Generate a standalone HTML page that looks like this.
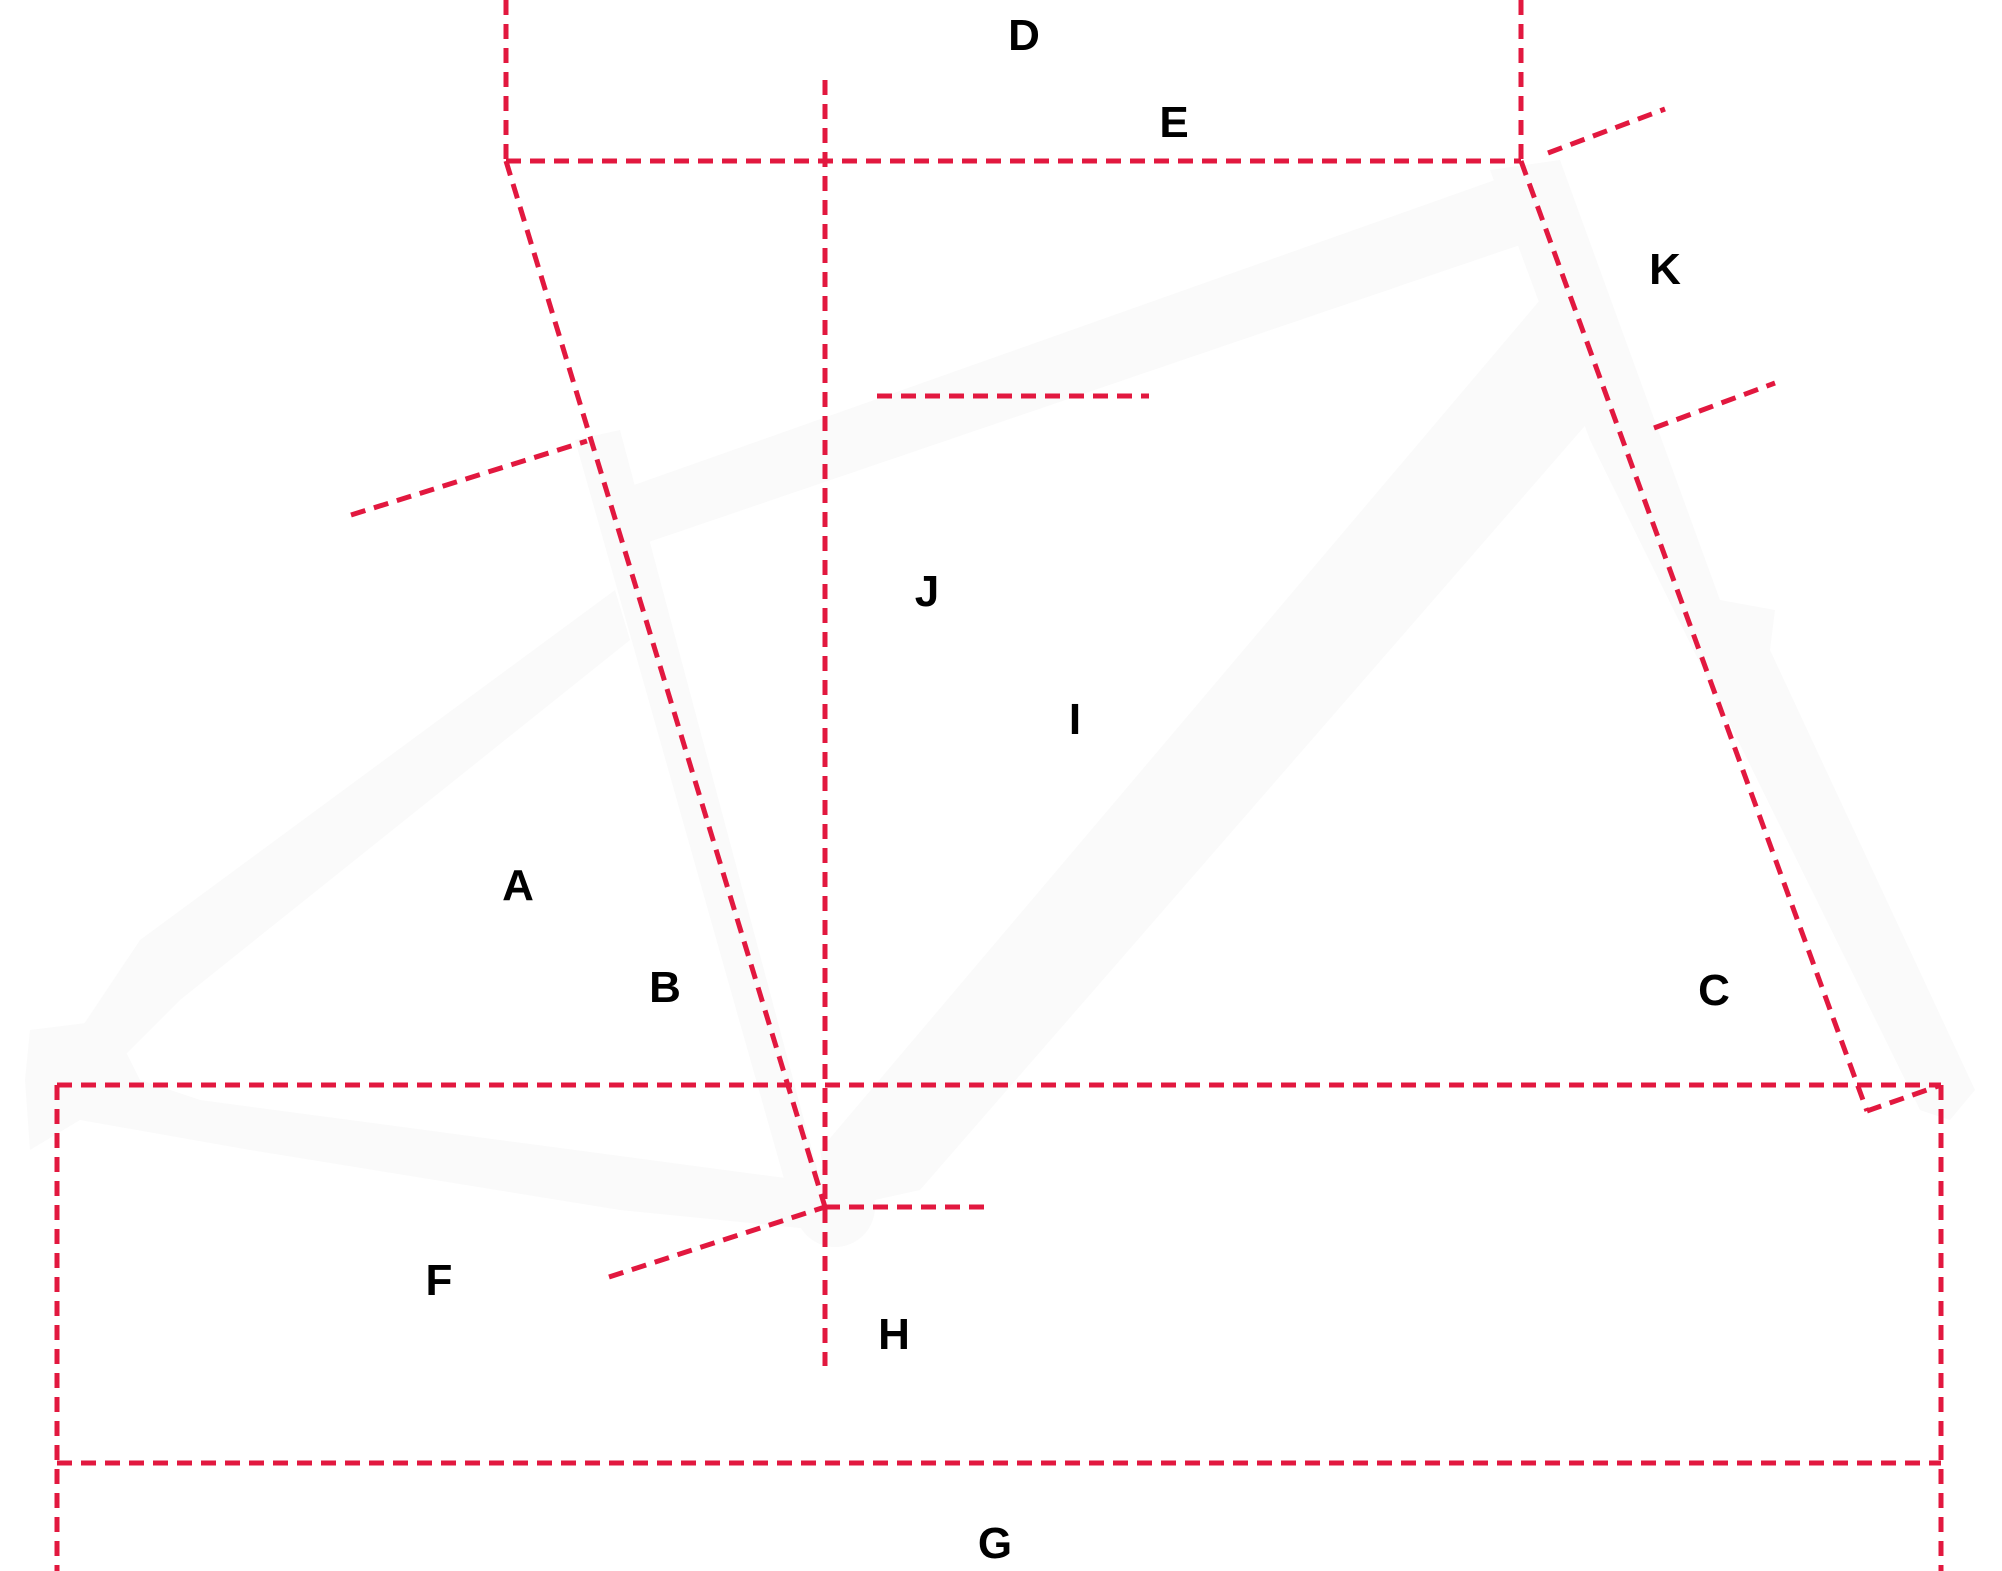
<!DOCTYPE html>
<html><head><style>
html,body{margin:0;padding:0;background:#fff;}
svg{display:block;}
text{font-family:"Liberation Sans",sans-serif;font-weight:bold;font-size:44px;fill:#000;text-anchor:middle;}
</style></head><body>
<svg width="2002" height="1571" viewBox="0 0 2002 1571" xmlns="http://www.w3.org/2000/svg">
<g fill="#fafafa" stroke="none">
<polygon points="620,490 1495,180 1520,245 640,545"/>
<polygon points="1540,300 1590,420 920,1190 830,1210 820,1150"/>
<polygon points="1490,170 1560,160 1720,600 1775,610 1770,650 1975,1090 1950,1120 1920,1110 1590,440"/>
<polygon points="575,440 620,430 820,1180 790,1200"/>
<polygon points="615,590 630,640 180,1000 120,1060 80,1030 140,940"/>
<polygon points="30,1030 110,1020 140,1080 200,1100 800,1180 820,1230 620,1210 250,1150 80,1120 30,1150 25,1080"/>
<circle cx="835" cy="1207" r="40"/>
</g>
<g fill="none" stroke="#e2183f" stroke-width="5" stroke-dasharray="15 9">
<line x1="506" y1="0" x2="506" y2="161"/>
<line x1="1521" y1="0" x2="1521" y2="161"/>
<line x1="506" y1="161" x2="1521" y2="161"/>
<line x1="506" y1="161" x2="825" y2="1207"/>
<line x1="825" y1="80" x2="825" y2="1366"/>
<line x1="877" y1="396" x2="1149" y2="396"/>
<line x1="351" y1="515" x2="587" y2="441"/>
<line x1="1521" y1="161" x2="1867" y2="1111"/>
<line x1="1548" y1="153" x2="1665" y2="109"/>
<line x1="1654" y1="428" x2="1775" y2="383"/>
<line x1="1867" y1="1111" x2="1941" y2="1085"/>
<line x1="57" y1="1085" x2="1941" y2="1085"/>
<line x1="57" y1="1085" x2="57" y2="1571"/>
<line x1="1941" y1="1085" x2="1941" y2="1571"/>
<line x1="57" y1="1463" x2="1941" y2="1463"/>
<line x1="825" y1="1207" x2="993" y2="1207"/>
<line x1="609" y1="1277" x2="825" y2="1207"/>
</g>
<text x="1024" y="50">D</text>
<text x="1174" y="137">E</text>
<text x="518" y="900">A</text>
<text x="665" y="1002">B</text>
<text x="1714" y="1005">C</text>
<text x="439" y="1295">F</text>
<text x="894" y="1349">H</text>
<text x="995" y="1558">G</text>
<text x="1075" y="734">I</text>
<text x="927" y="606">J</text>
<text x="1665" y="284">K</text>
</svg>
</body></html>
